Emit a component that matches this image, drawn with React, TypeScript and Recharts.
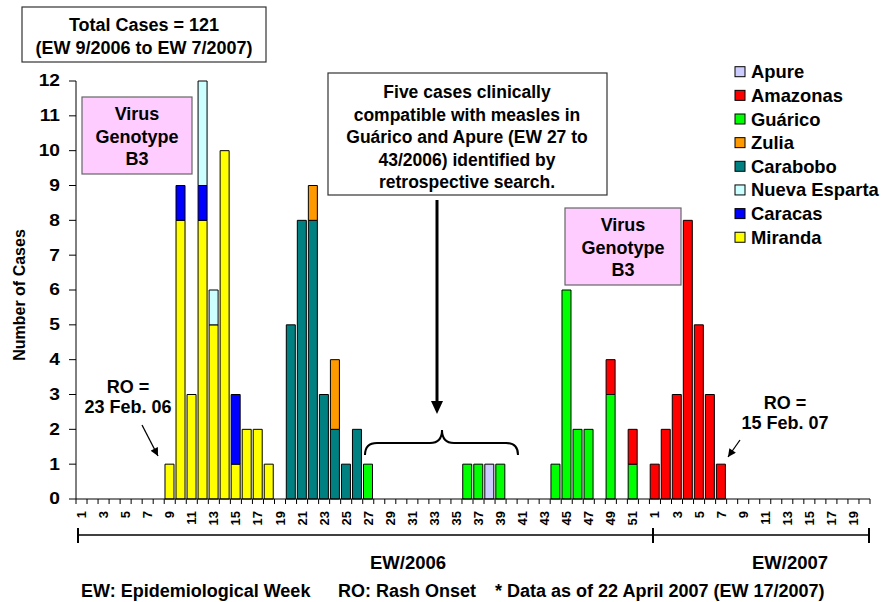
import React from 'react';
import { BarChart, Bar, XAxis, YAxis } from 'recharts';

const FONT = 'Arial, "Liberation Sans", sans-serif';

// Epidemiological week tick labels
const weeks2006 = [
  '1','2','3','4','5','6','7','8','9','10',
  '11','12','13','14','15','16','17','18','19','20',
  '21','22','23','24','25','26','27','28','29','30',
  '31','32','33','34','35','36','37','38','39','40',
  '41','42','43','44','45','46','47','48','49','50',
  '51','52',
];
const weeks2007 = [
  '1','2','3','4','5','6','7','8','9','10',
  '11','12','13','14','15','16','17','18','19','20',
];
const weekLabels = [...weeks2006, ...weeks2007];

// Cases per week (72 weeks: EW 1-52/2006, EW 1-20/2007)
const miranda = [
  0,0,0,0,0,0,0,0,1,8,
  3,8,5,10,1,2,2,1,0,0,
  0,0,0,0,0,0,0,0,0,0,
  0,0,0,0,0,0,0,0,0,0,
  0,0,0,0,0,0,0,0,0,0,
  0,0,
  0,0,0,0,0,0,0,0,0,0,
  0,0,0,0,0,0,0,0,0,0,
];
const caracas = [
  0,0,0,0,0,0,0,0,0,1,
  0,1,0,0,2,0,0,0,0,0,
  0,0,0,0,0,0,0,0,0,0,
  0,0,0,0,0,0,0,0,0,0,
  0,0,0,0,0,0,0,0,0,0,
  0,0,
  0,0,0,0,0,0,0,0,0,0,
  0,0,0,0,0,0,0,0,0,0,
];
const nuevaEsparta = [
  0,0,0,0,0,0,0,0,0,0,
  0,3,1,0,0,0,0,0,0,0,
  0,0,0,0,0,0,0,0,0,0,
  0,0,0,0,0,0,0,0,0,0,
  0,0,0,0,0,0,0,0,0,0,
  0,0,
  0,0,0,0,0,0,0,0,0,0,
  0,0,0,0,0,0,0,0,0,0,
];
const carabobo = [
  0,0,0,0,0,0,0,0,0,0,
  0,0,0,0,0,0,0,0,0,5,
  8,8,3,2,1,2,0,0,0,0,
  0,0,0,0,0,0,0,0,0,0,
  0,0,0,0,0,0,0,0,0,0,
  0,0,
  0,0,0,0,0,0,0,0,0,0,
  0,0,0,0,0,0,0,0,0,0,
];
const zulia = [
  0,0,0,0,0,0,0,0,0,0,
  0,0,0,0,0,0,0,0,0,0,
  0,1,0,2,0,0,0,0,0,0,
  0,0,0,0,0,0,0,0,0,0,
  0,0,0,0,0,0,0,0,0,0,
  0,0,
  0,0,0,0,0,0,0,0,0,0,
  0,0,0,0,0,0,0,0,0,0,
];
const guarico = [
  0,0,0,0,0,0,0,0,0,0,
  0,0,0,0,0,0,0,0,0,0,
  0,0,0,0,0,0,1,0,0,0,
  0,0,0,0,0,1,1,0,1,0,
  0,0,0,1,6,2,2,0,3,0,
  1,0,
  0,0,0,0,0,0,0,0,0,0,
  0,0,0,0,0,0,0,0,0,0,
];
const amazonas = [
  0,0,0,0,0,0,0,0,0,0,
  0,0,0,0,0,0,0,0,0,0,
  0,0,0,0,0,0,0,0,0,0,
  0,0,0,0,0,0,0,0,0,0,
  0,0,0,0,0,0,0,0,1,0,
  1,0,
  1,2,3,8,5,3,1,0,0,0,
  0,0,0,0,0,0,0,0,0,0,
];
const apure = [
  0,0,0,0,0,0,0,0,0,0,
  0,0,0,0,0,0,0,0,0,0,
  0,0,0,0,0,0,0,0,0,0,
  0,0,0,0,0,0,0,1,0,0,
  0,0,0,0,0,0,0,0,0,0,
  0,0,
  0,0,0,0,0,0,0,0,0,0,
  0,0,0,0,0,0,0,0,0,0,
];

const yTicks = [0,1,2,3,4,5,6,7,8,9,10,11,12];

// stacking order bottom -> top
const seriesDefs = [
  { key: 'miranda', name: 'Miranda', color: '#FFFF00', values: miranda },
  { key: 'caracas', name: 'Caracas', color: '#0000FF', values: caracas },
  { key: 'nuevaEsparta', name: 'Nueva Esparta', color: '#CCFFFF', values: nuevaEsparta },
  { key: 'carabobo', name: 'Carabobo', color: '#008080', values: carabobo },
  { key: 'zulia', name: 'Zulia', color: '#FF9900', values: zulia },
  { key: 'guarico', name: 'Guárico', color: '#00FF00', values: guarico },
  { key: 'amazonas', name: 'Amazonas', color: '#FF0000', values: amazonas },
  { key: 'apure', name: 'Apure', color: '#CCCCFF', values: apure },
];

const data = weekLabels.map((w, i) => {
  const row: Record<string, any> = { key: `${i < 52 ? 2006 : 2007}-${w}` };
  seriesDefs.forEach((s) => {
    row[s.key] = s.values[i];
  });
  return row;
});

const XTick = (props: any) => {
  const { x, y, payload, index } = props;
  const half = payload && typeof payload.offset === 'number' && payload.offset > 0 ? payload.offset : 5.5;
  const label = weekLabels[index];
  return (
    <g>
      <line x1={x - half} y1={y - 12} x2={x - half} y2={y - 7} stroke="#000" strokeWidth={1} />
      {index === weekLabels.length - 1 && (
        <line x1={x + half} y1={y - 12} x2={x + half} y2={y - 7} stroke="#000" strokeWidth={1} />
      )}
      {index % 2 === 0 && (
        <text
          transform={`translate(${x},${y}) rotate(-90)`}
          textAnchor="end"
          dominantBaseline="central"
          fontFamily={FONT}
          fontWeight="bold"
          fontSize={13}
          fill="#000"
        >
          {label}
        </text>
      )}
    </g>
  );
};

const YTick = (props: any) => {
  const { x, y, payload } = props;
  return (
    <text
      transform={`translate(${x},${y}) scale(1.2,1)`}
      textAnchor="end"
      dominantBaseline="central"
      fontFamily={FONT}
      fontWeight="bold"
      fontSize={16}
      fill="#000"
    >
      {payload.value}
    </text>
  );
};

const txt = {
  fontFamily: FONT,
  fontWeight: 'bold' as const,
  fill: '#000',
};

const Overlay = () => {
  const legendItems = [...seriesDefs].reverse();
  return (
    <svg
      width={895}
      height={602}
      style={{ position: 'absolute', left: 0, top: 0, pointerEvents: 'none' }}
    >
      <defs>
        <marker id="ah" viewBox="0 0 10 10" refX="10" refY="5" markerWidth="9" markerHeight="8"
          orient="auto" markerUnits="userSpaceOnUse">
          <path d="M0,0 L10,5 L0,10 z" fill="#000" />
        </marker>
      </defs>

      {/* Total cases box */}
      <rect x={22} y={7} width={244} height={55} fill="#fff" stroke="#333" strokeWidth={1.2} />
      <text x={144} y={25} textAnchor="middle" dominantBaseline="central" fontSize={18} {...txt}>Total Cases = 121</text>
      <text x={144} y={48} textAnchor="middle" dominantBaseline="central" fontSize={18} {...txt}>(EW 9/2006 to EW 7/2007)</text>

      {/* Y axis title */}
      <text transform="translate(19,295) rotate(-90)" textAnchor="middle" dominantBaseline="central" fontSize={16} {...txt}>Number of Cases</text>

      {/* Virus genotype boxes */}
      <rect x={82} y={97} width={110} height={77} fill="#FFCCFF" stroke="#666" strokeWidth={1.2} />
      <text x={137} y={114} textAnchor="middle" dominantBaseline="central" fontSize={18} {...txt}>Virus</text>
      <text x={137} y={137} textAnchor="middle" dominantBaseline="central" fontSize={18} {...txt}>Genotype</text>
      <text x={137} y={159} textAnchor="middle" dominantBaseline="central" fontSize={18} {...txt}>B3</text>

      <rect x={565} y={208} width={116} height={77} fill="#FFCCFF" stroke="#666" strokeWidth={1.2} />
      <text x={623} y={225} textAnchor="middle" dominantBaseline="central" fontSize={18} {...txt}>Virus</text>
      <text x={623} y={248} textAnchor="middle" dominantBaseline="central" fontSize={18} {...txt}>Genotype</text>
      <text x={623} y={270} textAnchor="middle" dominantBaseline="central" fontSize={18} {...txt}>B3</text>

      {/* Retrospective cases box */}
      <rect x={328} y={73} width={279} height={122} fill="#fff" stroke="#333" strokeWidth={1.2} />
      {[
        'Five cases clinically',
        'compatible with measles in',
        'Guárico and Apure (EW 27 to',
        '43/2006) identified by',
        'retrospective search.',
      ].map((l, i) => (
        <text key={i} x={467} y={92 + i * 22.5} textAnchor="middle" dominantBaseline="central" fontSize={17.5} {...txt}>{l}</text>
      ))}

      {/* Big arrow */}
      <line x1={437} y1={200} x2={437} y2={403} stroke="#000" strokeWidth={3} />
      <polygon points="431,401 443,401 437,414" fill="#000" />

      {/* Brace */}
      <path
        d="M365,455 Q365,443 377,443 L430,443 Q442,443 442,430 Q442,443 454,443 L506,443 Q518,443 518,455"
        fill="none" stroke="#000" strokeWidth={2}
      />

      {/* RO annotations */}
      <text x={128} y={387} textAnchor="middle" dominantBaseline="central" fontSize={18} {...txt}>RO =</text>
      <text x={128} y={407} textAnchor="middle" dominantBaseline="central" fontSize={18} {...txt}>23 Feb. 06</text>
      <line x1={142} y1={425} x2={158} y2={456} stroke="#000" strokeWidth={1.3} markerEnd="url(#ah)" />

      <text x={785} y={403} textAnchor="middle" dominantBaseline="central" fontSize={18} {...txt}>RO =</text>
      <text x={785} y={423} textAnchor="middle" dominantBaseline="central" fontSize={18} {...txt}>15 Feb. 07</text>
      <line x1={740} y1={440} x2={728} y2={457} stroke="#000" strokeWidth={1.3} markerEnd="url(#ah)" />

      {/* Legend */}
      {legendItems.map((s, i) => {
        const cy = 71.7 + i * 23.65;
        return (
          <g key={s.key}>
            <rect x={735} y={cy - 5} width={10} height={10} fill={s.color} stroke="#000" strokeWidth={1} />
            <text x={751} y={cy} dominantBaseline="central" fontSize={18.4} {...txt}>{s.name}</text>
          </g>
        );
      })}

      {/* Year bracket */}
      <line x1={78} y1={535} x2={869} y2={535} stroke="#000" strokeWidth={1.5} />
      <line x1={78} y1={528} x2={78} y2={543} stroke="#000" strokeWidth={2} />
      <line x1={653} y1={528} x2={653} y2={543} stroke="#000" strokeWidth={2} />
      <line x1={869} y1={528} x2={869} y2={543} stroke="#000" strokeWidth={2} />
      <text x={408} y={562} textAnchor="middle" dominantBaseline="central" fontSize={18.5} {...txt}>EW/2006</text>
      <text x={790} y={562} textAnchor="middle" dominantBaseline="central" fontSize={18.5} {...txt}>EW/2007</text>

      {/* Footnote */}
      <text x={81} y={591} dominantBaseline="central" fontSize={18} {...txt}>EW: Epidemiological Week</text>
      <text x={338} y={591} dominantBaseline="central" fontSize={18} {...txt}>RO: Rash Onset</text>
      <text x={495} y={591} dominantBaseline="central" fontSize={18} {...txt}>* Data as of 22 April 2007 (EW 17/2007)</text>
    </svg>
  );
};

export default function App() {
  return (
    <div style={{ position: 'absolute', left: 0, top: 0, width: 895, height: 602, background: '#fff' }}>
      <BarChart
        width={895}
        height={602}
        data={data}
        margin={{ top: 81, right: 25, bottom: 73, left: 0 }}
        barCategoryGap="7%"
      >
        <XAxis
          dataKey="key"
          interval={0}
          height={30}
          tickLine={false}
          tickSize={5}
          tickMargin={7}
          tick={<XTick />}
          axisLine={{ stroke: '#000', strokeWidth: 1 }}
        />
        <YAxis
          width={76}
          domain={[0, 12]}
          ticks={yTicks}
          interval={0}
          allowDecimals={false}
          tickSize={7}
          tickMargin={9}
          axisLine={{ stroke: '#000', strokeWidth: 1 }}
          tickLine={{ stroke: '#000', strokeWidth: 1 }}
          tick={<YTick />}
        />
        {seriesDefs.map((s) => (
          <Bar
            key={s.key}
            dataKey={s.key}
            name={s.name}
            stackId="cases"
            fill={s.color}
            stroke="#000"
            strokeWidth={1}
            isAnimationActive={false}
          />
        ))}
      </BarChart>
      <Overlay />
    </div>
  );
}
